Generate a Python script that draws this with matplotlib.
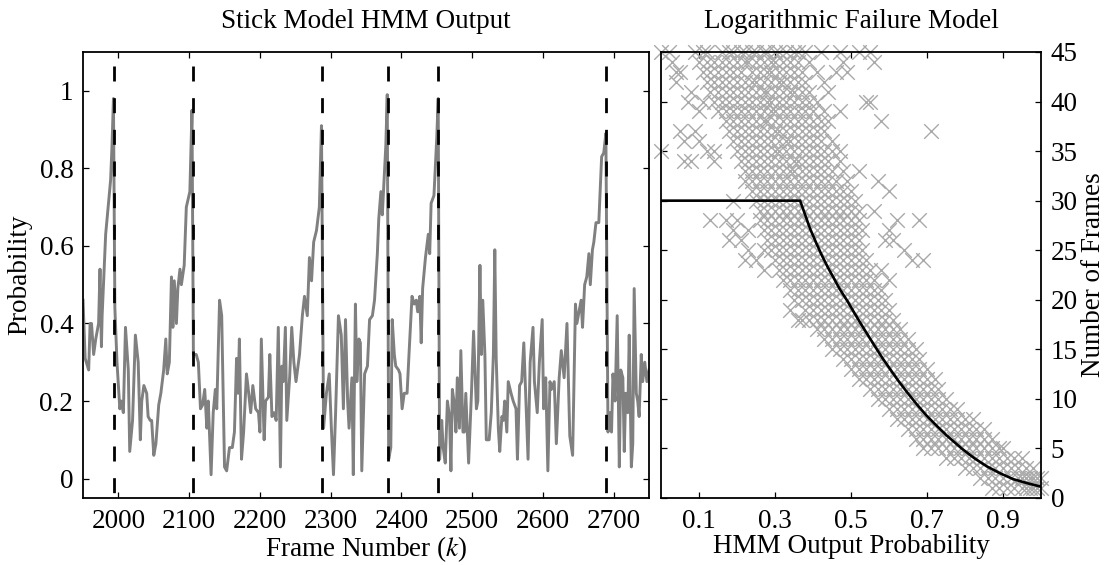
import matplotlib
matplotlib.use('Agg')
import matplotlib.pyplot as plt

plt.rcParams['font.family'] = ['Liberation Serif', 'DejaVu Serif']
plt.rcParams['mathtext.fontset'] = 'stix'
plt.rcParams['font.size'] = 19.5

# left panel: HMM output per frame
frame_k = [1950, 1953, 1958, 1960, 1962, 1965, 1968, 1972, 1974, 1976, 1977, 1982, 1986, 1989, 1991, 1993,
           1995, 1998, 2002, 2004, 2007, 2010, 2014, 2016, 2020, 2024, 2028, 2031, 2033, 2036, 2040, 2042,
           2045, 2047, 2050, 2053, 2057, 2060, 2064, 2067, 2069, 2072, 2075, 2077, 2079, 2082, 2084, 2087,
           2089, 2093, 2096, 2101, 2104,
           2106, 2110, 2113, 2116, 2119, 2122, 2125, 2127, 2131, 2134, 2137, 2139, 2143, 2146, 2150, 2153,
           2157, 2161, 2164, 2167, 2169, 2171, 2174, 2177, 2181, 2183, 2187, 2190, 2194, 2198, 2200, 2202,
           2206, 2208, 2212, 2214, 2217, 2220, 2223, 2226, 2229, 2231, 2233, 2236, 2238, 2242, 2245, 2248,
           2251, 2256, 2260, 2263, 2267, 2270, 2273, 2276, 2280, 2284, 2287,
           2290, 2294, 2298, 2301, 2304, 2307, 2311, 2315, 2318, 2321, 2324, 2326, 2330, 2332, 2335, 2337,
           2340, 2342, 2344, 2348, 2352, 2355, 2359, 2362, 2366, 2368, 2371, 2373, 2375, 2378, 2380,
           2382, 2385, 2387, 2390, 2392, 2396, 2398, 2401, 2404, 2408, 2411, 2415, 2418, 2421, 2423, 2426,
           2428, 2430, 2434, 2438, 2440, 2442, 2446, 2450, 2452,
           2454, 2457, 2459, 2462, 2465, 2468, 2470, 2472, 2475, 2477, 2479, 2482, 2484, 2487, 2489, 2491,
           2495, 2499, 2502, 2506, 2508, 2511, 2513, 2515, 2518, 2520, 2524, 2527, 2530, 2532, 2534, 2537,
           2539, 2542, 2544, 2546, 2549, 2551, 2555, 2558, 2562, 2564, 2567, 2570, 2573, 2576, 2579, 2582,
           2586, 2588, 2592, 2595, 2599, 2601, 2604, 2607, 2610, 2612, 2616, 2619, 2623, 2626, 2630, 2634,
           2636, 2638, 2642, 2646, 2648, 2650, 2654, 2656, 2659, 2662, 2665, 2667, 2670, 2672, 2675, 2679,
           2683, 2686, 2689,
           2692, 2695, 2697, 2699, 2702, 2705, 2708, 2710, 2713, 2715, 2717, 2720, 2722, 2725, 2727, 2729,
           2732, 2734, 2736, 2739, 2741, 2744, 2747, 2750]
frame_prob = [0.46, 0.31, 0.28, 0.40, 0.40, 0.32, 0.36, 0.40, 0.54, 0.34, 0.42, 0.63, 0.71, 0.77, 0.86, 0.98,
              0.44, 0.30, 0.18, 0.20, 0.17, 0.39, 0.28, 0.07, 0.15, 0.37, 0.30, 0.10, 0.20, 0.24, 0.22, 0.16,
              0.15, 0.15, 0.06, 0.09, 0.19, 0.22, 0.28, 0.36, 0.27, 0.30, 0.52, 0.39, 0.51, 0.40, 0.49, 0.54,
              0.50, 0.55, 0.70, 0.74, 0.95,
              0.32, 0.32, 0.30, 0.18, 0.19, 0.23, 0.13, 0.20, 0.01, 0.17, 0.23, 0.18, 0.46, 0.42, 0.03, 0.02,
              0.08, 0.08, 0.12, 0.31, 0.22, 0.36, 0.05, 0.12, 0.27, 0.24, 0.17, 0.24, 0.18, 0.17, 0.12, 0.36,
              0.10, 0.20, 0.21, 0.32, 0.16, 0.17, 0.15, 0.39, 0.03, 0.29, 0.25, 0.39, 0.15, 0.26, 0.39, 0.30,
              0.25, 0.32, 0.42, 0.47, 0.42, 0.57, 0.51, 0.61, 0.64, 0.70, 0.91,
              0.13, 0.22, 0.27, 0.13, 0.01, 0.17, 0.42, 0.37, 0.18, 0.41, 0.20, 0.13, 0.26, 0.01, 0.45, 0.25,
              0.36, 0.35, 0.02, 0.27, 0.29, 0.41, 0.42, 0.46, 0.58, 0.67, 0.74, 0.68, 0.75, 0.86, 0.99,
              0.05, 0.08, 0.41, 0.32, 0.29, 0.28, 0.27, 0.18, 0.22, 0.22, 0.33, 0.47, 0.45, 0.46, 0.43, 0.47,
              0.35, 0.49, 0.57, 0.63, 0.58, 0.71, 0.73, 0.88, 0.98,
              0.05, 0.15, 0.08, 0.04, 0.20, 0.16, 0.02, 0.23, 0.19, 0.12, 0.26, 0.13, 0.33, 0.12, 0.12, 0.22,
              0.04, 0.22, 0.38, 0.18, 0.20, 0.55, 0.32, 0.46, 0.32, 0.10, 0.10, 0.17, 0.32, 0.59, 0.31, 0.13,
              0.07, 0.16, 0.15, 0.20, 0.12, 0.25, 0.22, 0.20, 0.18, 0.05, 0.24, 0.25, 0.35, 0.20, 0.05, 0.30,
              0.39, 0.25, 0.17, 0.30, 0.41, 0.18, 0.26, 0.02, 0.25, 0.23, 0.25, 0.09, 0.26, 0.33, 0.26, 0.40,
              0.25, 0.11, 0.06, 0.45, 0.40, 0.42, 0.46, 0.39, 0.50, 0.52, 0.58, 0.50, 0.59, 0.61, 0.66, 0.66,
              0.83, 0.84, 0.89,
              0.12, 0.17, 0.12, 0.27, 0.20, 0.42, 0.03, 0.28, 0.26, 0.07, 0.22, 0.17, 0.37, 0.03, 0.09, 0.49,
              0.22, 0.20, 0.16, 0.32, 0.25, 0.30, 0.25, 0.28]
failure_frames = [1994, 2105, 2288, 2381, 2452, 2689]

# right panel: scatter rows (number of frames -> output probabilities)
cloud_n = [45, 44, 43, 42, 41, 40, 39, 38, 37, 36, 35, 34, 33, 32, 31, 30, 29, 28, 27, 26, 25, 24, 23,
           22, 21, 20, 19, 18, 17, 16, 15, 14, 13, 12, 11, 10, 9, 8, 7, 6, 5, 4, 3, 2, 1]
cloud_p = [
    [0.00, 0.02, 0.09, 0.11, 0.12, 0.16, 0.18, 0.19, 0.21, 0.22, 0.24, 0.25, 0.27, 0.28, 0.30, 0.31, 0.33, 0.35, 0.36, 0.38, 0.42, 0.47, 0.52, 0.55],
    [0.03, 0.10, 0.12, 0.14, 0.16, 0.18, 0.20, 0.22, 0.23, 0.25, 0.27, 0.29, 0.30, 0.32, 0.34, 0.36, 0.39, 0.48, 0.56],
    [0.04, 0.05, 0.11, 0.13, 0.15, 0.17, 0.19, 0.21, 0.24, 0.26, 0.28, 0.29, 0.31, 0.33, 0.35, 0.37, 0.41, 0.46, 0.49],
    [0.04, 0.12, 0.14, 0.16, 0.18, 0.20, 0.22, 0.24, 0.25, 0.27, 0.29, 0.31, 0.32, 0.34, 0.36, 0.38, 0.43],
    [0.08, 0.13, 0.15, 0.17, 0.19, 0.21, 0.23, 0.25, 0.27, 0.28, 0.30, 0.32, 0.34, 0.35, 0.37, 0.39, 0.44],
    [0.07, 0.11, 0.14, 0.16, 0.18, 0.20, 0.22, 0.24, 0.26, 0.28, 0.29, 0.31, 0.33, 0.35, 0.37, 0.39, 0.41, 0.54, 0.55],
    [0.10, 0.15, 0.17, 0.19, 0.21, 0.23, 0.25, 0.27, 0.29, 0.30, 0.32, 0.34, 0.36, 0.38, 0.40, 0.43, 0.47],
    [0.17, 0.19, 0.21, 0.23, 0.25, 0.27, 0.28, 0.30, 0.32, 0.34, 0.36, 0.38, 0.40, 0.42, 0.44, 0.58],
    [0.05, 0.09, 0.18, 0.20, 0.22, 0.24, 0.26, 0.28, 0.30, 0.31, 0.33, 0.35, 0.37, 0.39, 0.41, 0.43, 0.71],
    [0.06, 0.10, 0.19, 0.21, 0.23, 0.25, 0.27, 0.29, 0.31, 0.33, 0.34, 0.36, 0.38, 0.40, 0.42, 0.45],
    [0.00, 0.12, 0.14, 0.20, 0.22, 0.24, 0.26, 0.28, 0.30, 0.31, 0.33, 0.35, 0.37, 0.39, 0.41, 0.43, 0.45, 0.47],
    [0.06, 0.08, 0.14, 0.21, 0.23, 0.25, 0.27, 0.29, 0.31, 0.33, 0.35, 0.36, 0.38, 0.40, 0.42, 0.44, 0.47],
    [0.22, 0.24, 0.26, 0.28, 0.30, 0.32, 0.34, 0.35, 0.37, 0.39, 0.41, 0.43, 0.45, 0.48, 0.52],
    [0.22, 0.24, 0.26, 0.28, 0.30, 0.32, 0.34, 0.36, 0.38, 0.40, 0.42, 0.44, 0.46, 0.49, 0.57],
    [0.24, 0.26, 0.28, 0.30, 0.32, 0.34, 0.36, 0.38, 0.40, 0.42, 0.44, 0.46, 0.48, 0.50, 0.60],
    [0.19, 0.25, 0.27, 0.29, 0.31, 0.33, 0.35, 0.37, 0.39, 0.41, 0.43, 0.45, 0.47, 0.49, 0.51],
    [0.26, 0.28, 0.30, 0.32, 0.34, 0.36, 0.38, 0.40, 0.42, 0.44, 0.46, 0.48, 0.50, 0.52, 0.56],
    [0.13, 0.17, 0.20, 0.26, 0.28, 0.30, 0.32, 0.34, 0.36, 0.38, 0.40, 0.42, 0.44, 0.46, 0.48, 0.50, 0.52, 0.62, 0.68],
    [0.19, 0.23, 0.27, 0.29, 0.31, 0.33, 0.35, 0.37, 0.39, 0.41, 0.43, 0.45, 0.47, 0.49, 0.51, 0.53, 0.60],
    [0.18, 0.21, 0.28, 0.30, 0.32, 0.34, 0.36, 0.38, 0.40, 0.42, 0.44, 0.46, 0.48, 0.50, 0.52, 0.59, 0.61],
    [0.23, 0.27, 0.29, 0.31, 0.33, 0.35, 0.37, 0.39, 0.41, 0.43, 0.45, 0.47, 0.49, 0.51, 0.53, 0.64],
    [0.22, 0.25, 0.30, 0.32, 0.34, 0.36, 0.38, 0.40, 0.42, 0.44, 0.46, 0.48, 0.50, 0.52, 0.54, 0.66, 0.69],
    [0.27, 0.31, 0.33, 0.35, 0.37, 0.39, 0.41, 0.43, 0.45, 0.47, 0.49, 0.51, 0.53, 0.55, 0.58],
    [0.32, 0.34, 0.36, 0.38, 0.40, 0.42, 0.44, 0.46, 0.48, 0.50, 0.52, 0.54, 0.56, 0.60],
    [0.34, 0.36, 0.38, 0.40, 0.42, 0.44, 0.46, 0.48, 0.50, 0.52, 0.54, 0.56, 0.58],
    [0.35, 0.37, 0.39, 0.41, 0.43, 0.45, 0.47, 0.49, 0.51, 0.53, 0.55, 0.57, 0.59],
    [0.34, 0.38, 0.40, 0.42, 0.44, 0.46, 0.48, 0.50, 0.52, 0.54, 0.56, 0.58, 0.60],
    [0.36, 0.37, 0.39, 0.41, 0.43, 0.45, 0.47, 0.49, 0.51, 0.53, 0.55, 0.57, 0.59, 0.61],
    [0.41, 0.43, 0.45, 0.47, 0.49, 0.51, 0.53, 0.55, 0.57, 0.59, 0.61, 0.63],
    [0.43, 0.45, 0.47, 0.49, 0.51, 0.53, 0.55, 0.57, 0.59, 0.61, 0.63, 0.65],
    [0.45, 0.47, 0.49, 0.51, 0.53, 0.55, 0.57, 0.59, 0.61, 0.63, 0.65, 0.67],
    [0.48, 0.50, 0.52, 0.54, 0.56, 0.58, 0.60, 0.62, 0.64, 0.66, 0.68],
    [0.50, 0.52, 0.54, 0.56, 0.58, 0.60, 0.62, 0.64, 0.66, 0.68, 0.70],
    [0.52, 0.54, 0.56, 0.58, 0.60, 0.62, 0.64, 0.66, 0.68, 0.70, 0.72],
    [0.55, 0.57, 0.59, 0.61, 0.63, 0.65, 0.67, 0.69, 0.71, 0.73],
    [0.57, 0.59, 0.61, 0.63, 0.65, 0.67, 0.69, 0.71, 0.73, 0.75],
    [0.60, 0.62, 0.64, 0.66, 0.68, 0.70, 0.72, 0.74, 0.76, 0.78],
    [0.62, 0.64, 0.66, 0.68, 0.70, 0.72, 0.74, 0.76, 0.78, 0.80, 0.82],
    [0.65, 0.67, 0.69, 0.71, 0.73, 0.75, 0.77, 0.79, 0.81, 0.83, 0.85],
    [0.67, 0.69, 0.71, 0.73, 0.75, 0.77, 0.79, 0.81, 0.83, 0.85, 0.87],
    [0.69, 0.71, 0.73, 0.75, 0.77, 0.79, 0.81, 0.83, 0.85, 0.87, 0.89, 0.90],
    [0.75, 0.77, 0.79, 0.81, 0.83, 0.85, 0.87, 0.89, 0.91, 0.93, 0.95],
    [0.80, 0.82, 0.84, 0.86, 0.88, 0.90, 0.92, 0.94, 0.96, 0.98],
    [0.84, 0.86, 0.88, 0.90, 0.92, 0.94, 0.95, 0.96, 0.97, 0.98, 0.99, 1.00],
    [0.87, 0.89, 0.91, 0.93, 0.95, 0.96, 0.97, 0.98, 0.99, 1.00],
]

# fitted model curve
model_p = [0.0, 0.366, 0.38, 0.392, 0.41, 0.423, 0.44, 0.453, 0.47, 0.49, 0.51, 0.524, 0.545, 0.563, 0.583,
           0.603, 0.625, 0.647, 0.672, 0.699, 0.725, 0.752, 0.791, 0.825, 0.857, 0.892, 0.927, 0.963, 1.0]
model_n = [30, 30, 28.5, 27.2, 25.6, 24.5, 23.2, 22.3, 21.1, 19.9, 18.6, 17.7, 16.4, 15.3, 14.1,
           13.0, 11.8, 10.7, 9.5, 8.3, 7.3, 6.3, 5.0, 4.0, 3.2, 2.5, 1.9, 1.5, 1.14]

left_ticks = [2000, 2100, 2200, 2300, 2400, 2500, 2600, 2700]
prob_ticks = [0, 0.2, 0.4, 0.6, 0.8, 1]
prob_labels = ['0', '0.2', '0.4', '0.6', '0.8', '1']
p_ticks = [0.1, 0.3, 0.5, 0.7, 0.9]
n_ticks = list(range(0, 46, 5))


def style_axes(ax):
    for sp in ax.spines.values():
        sp.set_linewidth(1.3)
    ax.tick_params(direction='in', length=4.5, width=0.9, top=True, bottom=True,
                   left=True, right=True, pad=7, labelsize=19.5)
    ax.tick_params(axis='x', pad=8)


fig = plt.figure(figsize=(11.07, 5.65), dpi=100)
ax1 = fig.add_axes([0.075, 0.1186, 0.5113, 0.7894])
ax2 = fig.add_axes([0.5971, 0.1186, 0.3433, 0.7894])

# --- left
ax1.plot(frame_k, frame_prob, color='#808080', lw=2.1, zorder=2)
for k in failure_frames:
    ax1.plot([k, k], [1.063, -0.05], color='black', lw=2.0, dashes=(5.4, 6.0), zorder=3)
ax1.set_xlim(1950, 2750)
ax1.set_ylim(-0.05, 1.1)
ax1.set_xticks(left_ticks)
ax1.set_yticks(prob_ticks)
ax1.set_yticklabels(prob_labels)
style_axes(ax1)
ax1.set_title('Stick Model HMM Output', fontsize=19.5, pad=17)
ax1.set_xlabel('Frame Number ($k$)', fontsize=19.5, labelpad=0)
ax1.set_ylabel('Probability', fontsize=19.5, labelpad=5)

# --- right
sx, sy = [], []
for n, row in zip(cloud_n, cloud_p):
    sx.extend(row)
    sy.extend([n] * len(row))
ax2.scatter(sx, sy, marker='x', s=110, c='#a9a9a9', linewidths=1.0, clip_on=False, zorder=2)
ax2.plot(model_p, model_n, color='black', lw=1.9, zorder=3)
ax2.set_xlim(0, 1)
ax2.set_ylim(0, 45)
ax2.set_xticks(p_ticks)
ax2.set_xticklabels([str(t) for t in p_ticks])
ax2.set_yticks(n_ticks)
style_axes(ax2)
ax2.yaxis.tick_right()
ax2.yaxis.set_ticks_position('both')
ax2.tick_params(labelleft=False, labelright=True)
ax2.yaxis.set_label_position('right')
ax2.set_title('Logarithmic Failure Model', fontsize=19.5, pad=17)
ax2.set_xlabel('HMM Output Probability', fontsize=19.5, labelpad=0)
ax2.set_ylabel('Number of Frames', fontsize=19.5, labelpad=2)

fig.savefig('out.png', dpi=100)
